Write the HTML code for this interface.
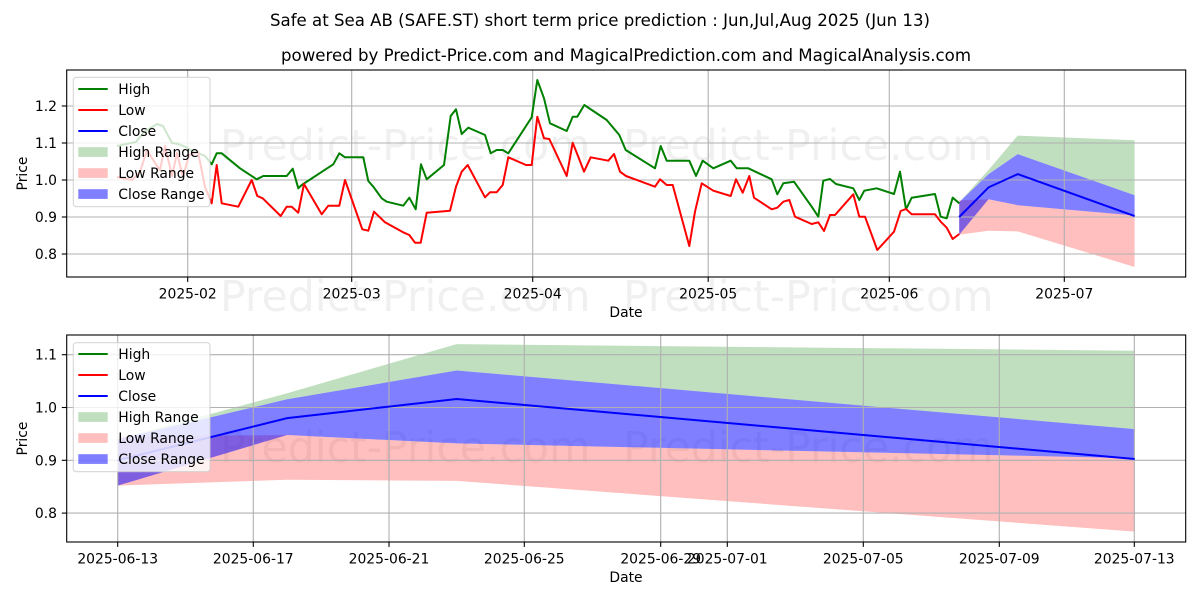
<!DOCTYPE html>
<html>
<head>
<meta charset="utf-8">
<style>
html,body{margin:0;padding:0;background:#fff;}
svg{display:block;}
text{font-family:"DejaVu Sans","Liberation Sans",sans-serif;}
</style>
</head>
<body>
<svg width="1200" height="600" viewBox="0 0 1200 600" xmlns="http://www.w3.org/2000/svg">
<rect x="0" y="0" width="1200" height="600" fill="#fff"/>

<!-- Titles -->
<text x="600" y="26" font-size="16.67" text-anchor="middle" fill="#000" textLength="660" lengthAdjust="spacingAndGlyphs">Safe at Sea AB (SAFE.ST) short term price prediction : Jun,Jul,Aug 2025 (Jun 13)</text>
<text x="626" y="61" font-size="16.67" text-anchor="middle" fill="#000" textLength="690" lengthAdjust="spacingAndGlyphs">powered by Predict-Price.com and MagicalPrediction.com and MagicalAnalysis.com</text>

<!-- ============ TOP CHART ============ -->
<polygon fill="#008000" fill-opacity="0.25" points="959.2,202.2 988.5,170 1017.7,135.6 1134.6,140.2 1134.6,195.2 1017.7,154.1 988.5,174.3 959.2,202.2"/>
<polygon fill="#ff0000" fill-opacity="0.25" points="959.2,200.4 988.5,199.2 1017.7,205.2 1134.6,215.5 1134.6,267 1017.7,231.4 988.5,230.7 959.2,234.8"/>
<polygon fill="#0000ff" fill-opacity="0.5" points="959.2,202.2 988.5,174.3 1017.7,154.1 1134.6,195.2 1134.6,215.5 1017.7,205.2 988.5,199.2 959.2,234.8"/>

<!-- watermarks -->
<g font-size="42.6" fill="#000" fill-opacity="0.06">
<text x="220" y="160">Predict-Price.com</text>
<text x="623" y="160">Predict-Price.com</text>
<text x="220" y="311">Predict-Price.com</text>
<text x="623" y="311">Predict-Price.com</text>
<text x="220" y="462">Predict-Price.com</text>
<text x="623" y="462">Predict-Price.com</text>
</g>

<!-- grid -->
<g stroke="#b0b0b0" stroke-width="1.1">
<line x1="66.7" y1="106" x2="1185.7" y2="106"/>
<line x1="66.7" y1="143" x2="1185.7" y2="143"/>
<line x1="66.7" y1="180" x2="1185.7" y2="180"/>
<line x1="66.7" y1="217" x2="1185.7" y2="217"/>
<line x1="66.7" y1="254" x2="1185.7" y2="254"/>
<line x1="187.7" y1="70" x2="187.7" y2="277"/>
<line x1="351.7" y1="70" x2="351.7" y2="277"/>
<line x1="532.7" y1="70" x2="532.7" y2="277"/>
<line x1="708.2" y1="70" x2="708.2" y2="277"/>
<line x1="889.3" y1="70" x2="889.3" y2="277"/>
<line x1="1064.3" y1="70" x2="1064.3" y2="277"/>
</g>

<!-- High -->
<polyline fill="none" stroke="#008000" stroke-width="2" stroke-linejoin="round" points="117,146 136,142 144,132 157,124 163,126 172,143 178,144 186,147 192,151 198,153 205,156 211.7,164.3 216.7,153.3 221.7,153.3 240,168.3 256.7,179.3 263.3,176 286.7,176 292.7,168.7 298.3,188.3 301.7,185 333.3,164.3 339.3,153.3 345,157.3 363.3,157.3 368.3,181 373.3,186.7 381.7,198.3 386.7,201.7 403.3,205.7 409.3,197.7 415.7,209.3 421,164.3 426.7,179.3 444,165 450.7,116 456,109.3 461.7,134 468.3,127.7 485,135 490.7,153.3 496.7,150 502.7,150 508.3,153.3 531.7,117.3 537.3,80 544,98.3 550,123.3 566.7,131 572.7,116.7 577.3,116.7 584.3,105 606.7,120 619.3,135 625.7,150 655,168.3 660.7,146 666.7,160.7 689.3,160.7 696,176 702.7,160.7 713.3,168.3 730.7,160.7 736.7,168.3 748.3,168.3 771.7,179.3 777.3,194.3 783.3,183.3 794,181.7 811.7,206.7 818.3,216.7 823.3,180.7 830,179 836,184 853.3,188.3 859.3,200 864.3,190.7 876.7,188.3 894,194 900,171.7 906,209.3 911.7,197.7 935,194 940.7,216.7 946.7,218.3 952.7,197.7 959.3,203.3"/>
<!-- Low -->
<polyline fill="none" stroke="#ff0000" stroke-width="2" stroke-linejoin="round" points="117,177 132,180 140,172 147,150 155,163 160,170 165,146 172,176 177,153 183,177 189,155 198,152 205,187 211.7,203.3 216.7,165 221.7,203.3 238.3,206.7 251.7,180 257.3,196 262.7,198.3 280.7,216 286.7,206.7 291.7,206.7 298.3,212.7 304,184 321.7,214.3 328.3,205.7 339.3,205.7 345,180 362.3,229.3 368.3,230.7 374,211.7 385,222.3 404,232.7 409.3,235 415,242.7 420.7,242.7 426.7,212.7 450,210.7 456,186.7 461.7,171.7 467.7,165 485,197.3 490,192.3 496.7,192.3 502.7,185 508.3,157.3 526,165 531.7,165 537.3,116.7 544,138.3 549.3,139 566.7,176 572.7,142.7 578.3,156.7 584,171.7 590.7,157.3 608.3,160.7 614,154 620,171.7 626,176 655,186.7 660,179.3 666.7,185 672.7,185 689.3,246 695,211.7 701.7,183.3 713.3,190.7 730.7,196 736,179.3 742.7,192.7 749.3,176 754,197.7 771.7,209.3 777.3,207.7 783.3,201.7 789.3,200 795,216.7 811.7,224 818.3,222.3 824,231 830,215 835,215 853.3,194.3 859.3,216.7 865,216.7 877.3,250 894,231.7 900.7,211 906,209 911.7,214.3 935,214.3 940.7,221.7 946.7,227.7 952.7,239 959.3,234"/>
<!-- Close -->
<polyline fill="none" stroke="#0000ff" stroke-width="2" stroke-linejoin="round" points="959.2,217 988.5,187.4 1017.7,174.1 1134.6,216.1"/>

<rect x="66.7" y="70" width="1119" height="207" fill="none" stroke="#000" stroke-width="1.1"/>

<g stroke="#000" stroke-width="1.1">
<line x1="66.7" y1="106" x2="61.8" y2="106"/>
<line x1="66.7" y1="143" x2="61.8" y2="143"/>
<line x1="66.7" y1="180" x2="61.8" y2="180"/>
<line x1="66.7" y1="217" x2="61.8" y2="217"/>
<line x1="66.7" y1="254" x2="61.8" y2="254"/>
<line x1="187.7" y1="277" x2="187.7" y2="281.9"/>
<line x1="351.7" y1="277" x2="351.7" y2="281.9"/>
<line x1="532.7" y1="277" x2="532.7" y2="281.9"/>
<line x1="708.2" y1="277" x2="708.2" y2="281.9"/>
<line x1="889.3" y1="277" x2="889.3" y2="281.9"/>
<line x1="1064.3" y1="277" x2="1064.3" y2="281.9"/>
</g>
<g font-size="13.9" fill="#000" text-anchor="end">
<text x="57" y="111">1.2</text>
<text x="57" y="148">1.1</text>
<text x="57" y="185">1.0</text>
<text x="57" y="222">0.9</text>
<text x="57" y="259">0.8</text>
</g>
<g font-size="13.9" fill="#000" text-anchor="middle">
<text x="187.7" y="298.5">2025-02</text>
<text x="351.7" y="298.5">2025-03</text>
<text x="532.7" y="298.5">2025-04</text>
<text x="708.2" y="298.5">2025-05</text>
<text x="889.3" y="298.5">2025-06</text>
<text x="1064.3" y="298.5">2025-07</text>
<text x="626" y="317">Date</text>
</g>
<text font-size="13.9" fill="#000" text-anchor="middle" transform="translate(27,173.5) rotate(-90)">Price</text>

<rect x="73.3" y="77.3" width="136.7" height="129.4" rx="3" fill="#fff" fill-opacity="0.8" stroke="#cccccc" stroke-opacity="0.8" stroke-width="1.1"/>
<line x1="78.3" y1="89" x2="107.7" y2="89" stroke="#008000" stroke-width="2"/>
<line x1="78.3" y1="110" x2="107.7" y2="110" stroke="#ff0000" stroke-width="2"/>
<line x1="78.3" y1="131" x2="107.7" y2="131" stroke="#0000ff" stroke-width="2"/>
<rect x="78.3" y="147.2" width="29.4" height="9.7" fill="#008000" fill-opacity="0.25"/>
<rect x="78.3" y="168.2" width="29.4" height="9.7" fill="#ff0000" fill-opacity="0.25"/>
<rect x="78.3" y="189.2" width="29.4" height="9.7" fill="#0000ff" fill-opacity="0.5"/>
<g font-size="13.9" fill="#000">
<text x="118.3" y="94">High</text>
<text x="118.3" y="115">Low</text>
<text x="118.3" y="136">Close</text>
<text x="118.3" y="157">High Range</text>
<text x="118.3" y="178">Low Range</text>
<text x="118.3" y="199">Close Range</text>
</g>

<!-- ============ BOTTOM CHART ============ -->
<polygon fill="#008000" fill-opacity="0.25" points="117.7,439.2 287.2,393.2 456.7,344.1 1134.7,350.7 1134.7,429.1 456.7,370.5 287.2,399.3 117.7,439.2"/>
<polygon fill="#ff0000" fill-opacity="0.25" points="117.7,436.5 287.2,435 456.7,443.4 1134.7,458.2 1134.7,531.6 456.7,480.9 287.2,479.8 117.7,485.6"/>
<polygon fill="#0000ff" fill-opacity="0.5" points="117.7,439.2 287.2,399.3 456.7,370.5 1134.7,429.1 1134.7,458.2 456.7,443.4 287.2,435 117.7,485.6"/>

<g stroke="#b0b0b0" stroke-width="1.1">
<line x1="66.7" y1="354.7" x2="1185.7" y2="354.7"/>
<line x1="66.7" y1="407.5" x2="1185.7" y2="407.5"/>
<line x1="66.7" y1="460.3" x2="1185.7" y2="460.3"/>
<line x1="66.7" y1="513.1" x2="1185.7" y2="513.1"/>
<line x1="117.7" y1="335" x2="117.7" y2="542"/>
<line x1="253.3" y1="335" x2="253.3" y2="542"/>
<line x1="389" y1="335" x2="389" y2="542"/>
<line x1="524.3" y1="335" x2="524.3" y2="542"/>
<line x1="660.7" y1="335" x2="660.7" y2="542"/>
<line x1="727.3" y1="335" x2="727.3" y2="542"/>
<line x1="863.3" y1="335" x2="863.3" y2="542"/>
<line x1="999.3" y1="335" x2="999.3" y2="542"/>
<line x1="1134.3" y1="335" x2="1134.3" y2="542"/>
</g>

<polyline fill="none" stroke="#0000ff" stroke-width="2" stroke-linejoin="round" points="117.7,460.3 287.2,418.1 456.7,399 1134.7,459"/>

<rect x="66.7" y="335" width="1119" height="207" fill="none" stroke="#000" stroke-width="1.1"/>

<g stroke="#000" stroke-width="1.1">
<line x1="66.7" y1="354.7" x2="61.8" y2="354.7"/>
<line x1="66.7" y1="407.5" x2="61.8" y2="407.5"/>
<line x1="66.7" y1="460.3" x2="61.8" y2="460.3"/>
<line x1="66.7" y1="513.1" x2="61.8" y2="513.1"/>
<line x1="117.7" y1="542" x2="117.7" y2="546.9"/>
<line x1="253.3" y1="542" x2="253.3" y2="546.9"/>
<line x1="389" y1="542" x2="389" y2="546.9"/>
<line x1="524.3" y1="542" x2="524.3" y2="546.9"/>
<line x1="660.7" y1="542" x2="660.7" y2="546.9"/>
<line x1="727.3" y1="542" x2="727.3" y2="546.9"/>
<line x1="863.3" y1="542" x2="863.3" y2="546.9"/>
<line x1="999.3" y1="542" x2="999.3" y2="546.9"/>
<line x1="1134.3" y1="542" x2="1134.3" y2="546.9"/>
</g>
<g font-size="13.9" fill="#000" text-anchor="end">
<text x="57" y="359.7">1.1</text>
<text x="57" y="412.5">1.0</text>
<text x="57" y="465.3">0.9</text>
<text x="57" y="518.1">0.8</text>
</g>
<g font-size="13.9" fill="#000" text-anchor="middle">
<text x="117.7" y="563.5">2025-06-13</text>
<text x="253.3" y="563.5">2025-06-17</text>
<text x="389" y="563.5">2025-06-21</text>
<text x="524.3" y="563.5">2025-06-25</text>
<text x="660.7" y="563.5">2025-06-29</text>
<text x="727.3" y="563.5">2025-07-01</text>
<text x="863.3" y="563.5">2025-07-05</text>
<text x="999.3" y="563.5">2025-07-09</text>
<text x="1134.3" y="563.5">2025-07-13</text>
<text x="626" y="582">Date</text>
</g>
<text font-size="13.9" fill="#000" text-anchor="middle" transform="translate(27,438.5) rotate(-90)">Price</text>

<rect x="73.3" y="342.7" width="136.7" height="129" rx="3" fill="#fff" fill-opacity="0.8" stroke="#cccccc" stroke-opacity="0.8" stroke-width="1.1"/>
<line x1="78.3" y1="354" x2="107.7" y2="354" stroke="#008000" stroke-width="2"/>
<line x1="78.3" y1="375" x2="107.7" y2="375" stroke="#ff0000" stroke-width="2"/>
<line x1="78.3" y1="396" x2="107.7" y2="396" stroke="#0000ff" stroke-width="2"/>
<rect x="78.3" y="412.2" width="29.4" height="9.7" fill="#008000" fill-opacity="0.25"/>
<rect x="78.3" y="433.2" width="29.4" height="9.7" fill="#ff0000" fill-opacity="0.25"/>
<rect x="78.3" y="454.2" width="29.4" height="9.7" fill="#0000ff" fill-opacity="0.5"/>
<g font-size="13.9" fill="#000">
<text x="118.3" y="359">High</text>
<text x="118.3" y="380">Low</text>
<text x="118.3" y="401">Close</text>
<text x="118.3" y="422">High Range</text>
<text x="118.3" y="443">Low Range</text>
<text x="118.3" y="464">Close Range</text>
</g>
</svg>
</body>
</html>
